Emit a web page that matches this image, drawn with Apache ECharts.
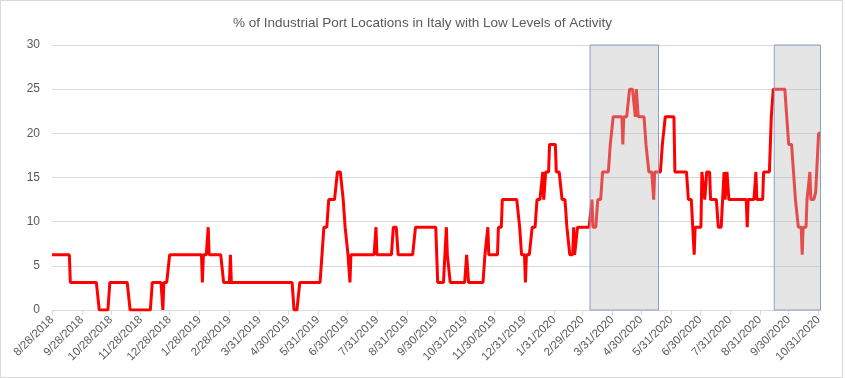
<!DOCTYPE html>
<html>
<head>
<meta charset="utf-8">
<script src="https://cdn.jsdelivr.net/npm/echarts@6/dist/echarts.min.js"></script>
<style>
  html, body { margin: 0; padding: 0; background: #fff; }
  #chart { width: 845px; height: 378px; position: absolute; left: 0; top: 0; }
  #frame { position: absolute; left: 0; top: 0; width: 843px; height: 378px; box-sizing: border-box; border: 1px solid #d9d9d9; pointer-events: none; }
</style>
</head>
<body>
<div id="chart"></div>
<div id="frame"></div>
<script>
const titleText = '% of Industrial Port Locations in Italy with Low Levels of Activity';
const startDate = '2018-08-28';
const dayCount = 798;

// day offset (from 8/28/2018) at which each level begins
const changeDays = [
  0, 19, 49, 60, 81, 104, 115, 116, 122, 156, 157, 162, 163, 178, 185, 186,
  251, 257, 280, 282, 287, 296, 302, 304, 307, 309, 310, 336, 337, 354, 359, 377,
  399, 400, 409, 410, 413, 430, 432, 449, 452, 453, 463, 467, 485, 487, 491, 492,
  498, 503, 509, 510, 512, 516, 523, 529, 534, 537, 541, 542, 545, 560, 561, 566,
  571, 579, 582, 592, 593, 599, 605, 606, 608, 616, 619, 624, 625, 633, 636, 646,
  660, 666, 667, 674, 677, 679, 683, 691, 697, 698, 700, 702, 721, 722, 730, 731,
  738, 745, 746, 748, 762, 764, 769, 771, 774, 778, 779, 783, 786, 787, 792, 795
];
const changeLevels = [
  6.25, 3.125, 0, 3.125, 0, 3.125, 0, 3.125, 6.25, 3.125, 6.25, 9.375, 6.25, 3.125, 6.25, 3.125,
  0, 3.125, 6.25, 9.375, 12.5, 15.625, 12.5, 9.375, 6.25, 3.125, 6.25, 9.375, 6.25, 9.375, 6.25, 9.375,
  6.25, 3.125, 9.375, 6.25, 3.125, 6.25, 3.125, 6.25, 9.375, 6.25, 9.375, 12.5, 9.375, 6.25, 3.125, 6.25,
  9.375, 12.5, 15.625, 12.5, 15.625, 18.75, 15.625, 12.5, 9.375, 6.25, 9.375, 6.25, 9.375, 12.5, 9.375, 12.5,
  15.625, 18.75, 21.875, 18.75, 21.875, 25, 21.875, 25, 21.875, 18.75, 15.625, 12.5, 15.625, 18.75, 21.875, 15.625,
  12.5, 6.25, 9.375, 15.625, 12.5, 15.625, 12.5, 9.375, 15.625, 12.5, 15.625, 12.5, 9.375, 12.5, 15.625, 12.5,
  15.625, 18.75, 21.875, 25, 21.875, 18.75, 15.625, 12.5, 9.375, 6.25, 9.375, 12.5, 15.625, 12.5, 13.33, 20
];

const tickLabels = [
  '8/28/2018', '9/28/2018', '10/28/2018', '11/28/2018', '12/28/2018', '1/28/2019', '2/28/2019',
  '3/31/2019', '4/30/2019', '5/31/2019', '6/30/2019', '7/31/2019', '8/31/2019', '9/30/2019',
  '10/31/2019', '11/30/2019', '12/31/2019', '1/31/2020', '2/29/2020', '3/31/2020', '4/30/2020',
  '5/31/2020', '6/30/2020', '7/31/2020', '8/31/2020', '9/30/2020', '10/31/2020'
];

// shaded periods: [start day offset, end day offset]
const shadedPeriods = [[558, 629], [749, 797]];

// build categories
const categories = [];
const t0 = Date.parse(startDate + 'T00:00:00Z');
for (let i = 0; i < dayCount; i++) {
  const d = new Date(t0 + i * 86400000);
  categories.push((d.getUTCMonth() + 1) + '/' + d.getUTCDate() + '/' + d.getUTCFullYear());
}
// expand levels to daily values
const values = [];
let k = 0;
for (let i = 0; i < dayCount; i++) {
  while (k + 1 < changeDays.length && changeDays[k + 1] <= i) k++;
  values.push(changeLevels[k]);
}
const tickSet = new Set(tickLabels);
const showTick = (idx, val) => tickSet.has(val);

const chart = echarts.init(document.getElementById('chart'), null, { renderer: 'canvas' });
chart.setOption({
  animation: false,
  backgroundColor: 'transparent',
  title: {
    text: titleText,
    left: 'center',
    top: 11,
    textStyle: { fontFamily: 'Liberation Sans', fontSize: 13.5, fontWeight: 'normal', color: '#595959' }
  },
  grid: { left: 52, right: 24.5, top: 45, bottom: 68, containLabel: false },
  xAxis: {
    type: 'category',
    data: categories,
    boundaryGap: false,
    axisLine: { lineStyle: { color: '#d9d9d9', width: 1 } },
    axisTick: { show: true, interval: showTick, length: 5, lineStyle: { color: '#d9d9d9' } },
    axisLabel: {
      interval: showTick,
      rotate: 45,
      margin: 8,
      fontFamily: 'Liberation Sans',
      fontSize: 11.5,
      color: '#595959'
    },
    splitLine: { show: false }
  },
  yAxis: {
    type: 'value',
    min: 0,
    max: 30,
    interval: 5,
    axisLine: { show: false },
    axisTick: { show: false },
    axisLabel: { margin: 12, fontFamily: 'Liberation Sans', fontSize: 12, color: '#595959' },
    splitLine: { lineStyle: { color: '#d9d9d9', width: 1 } }
  },
  series: [{
    type: 'line',
    data: values,
    showSymbol: false,
    symbol: 'none',
    lineStyle: { color: '#ff0000', width: 3 },
    z: 2,
    markArea: {
      z: 5,
      silent: true,
      itemStyle: { color: 'rgba(191,191,191,0.4)', borderColor: '#8c9fc8', borderWidth: 1 },
      data: shadedPeriods.map(p => [{ xAxis: p[0], yAxis: 30 }, { xAxis: p[1], yAxis: 0 }])
    }
  }]
});
</script>
</body>
</html>
